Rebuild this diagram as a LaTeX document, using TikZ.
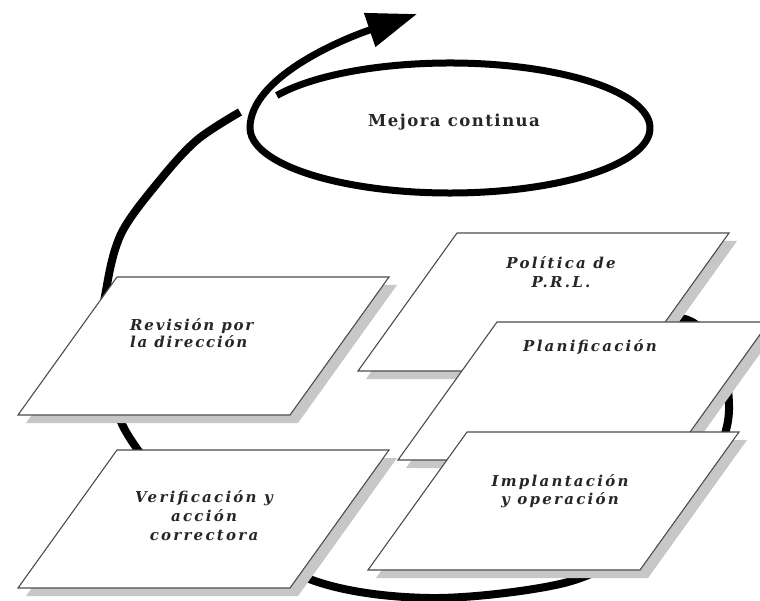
\documentclass[tikz,border=0pt]{standalone}
\usepackage{fontspec}
\setmainfont{DejaVu Serif}
\usetikzlibrary{arrows.meta}
\tikzset{
  loopline/.style={line width=8pt, black, line cap=butt},
  boxline/.style={draw=black!70, line width=1.1pt, fill=white, line join=miter},
  shadowfill/.style={fill=black!22},
  lab/.style={font=\fontsize{15}{19}\selectfont\bfseries\itshape\addfontfeature{LetterSpace=15}, align=center, inner sep=0pt, text=black!85},
}
\newcommand\pgram[3]{%
  \fill[shadowfill] (#2+8,#3+8) -- ++(272,0) -- ++(-99,138) -- ++(-272,0) -- cycle;
  \draw[boxline] (#2,#3) coordinate (#1-tl) -- ++(272,0) coordinate (#1-tr) -- ++(-99,138) coordinate (#1-br) -- ++(-272,0) coordinate (#1-bl) -- cycle;
}
\begin{document}
\begin{tikzpicture}[x=1pt,y=-1pt]
\useasboundingbox (0,0) rectangle (760,601);
\fill[white] (0,0) rectangle (760,601);
\clip (0,0) rectangle (760,601);
% big loop (behind boxes)
\draw[loopline] plot[smooth, tension=0.55] coordinates {(640,319) (688,320) (720,352) (729,410) (718,452) (690,500) (630,552) (560,584) (430,598) (312,580) (200,515) (125,430) (103,340) (107,285) (122,232) (160,180) (197,140) (240,112)};
% boxes
\pgram{rev}{117}{277}
\pgram{ver}{117}{450}
\pgram{pol}{457}{233}
\pgram{pla}{497}{322}
\pgram{imp}{467}{432}
% ellipse and arrow
\coordinate (ec) at (450,128);
\coordinate (tip) at (417,14);
\draw[line width=7pt, -{Triangle[length=50pt,width=34pt]}] (ec) ++(150:200pt and 65pt)
  arc[start angle=150, end angle=-180, x radius=200pt, y radius=65pt]
  .. controls (250,78) and (340,40) .. (tip);
% labels
\node[font=\fontsize{16.5}{20}\selectfont\bfseries\addfontfeature{LetterSpace=9}, text=black!85, inner sep=0pt] (tmej) at (454,122) {Mejora continua};
\node[lab, anchor=west, align=left, font=\fontsize{15}{17.5}\selectfont\bfseries\itshape\addfontfeature{LetterSpace=12}] (trev) at (130,333) {Revisión por\\la dirección};
\node[lab] (tver) at (204,516) {Verificación y\\acción\\correctora};
\node[lab] (tpol) at (561,272) {Política de\\P.R.L.};
\node[lab] (tpla) at (590,347) {Planificación};
\node[lab, font=\fontsize{15}{18}\selectfont\bfseries\itshape\addfontfeature{LetterSpace=15}] (timp) at (560,491) {Implantación\\y operación};
\end{tikzpicture}
\end{document}
